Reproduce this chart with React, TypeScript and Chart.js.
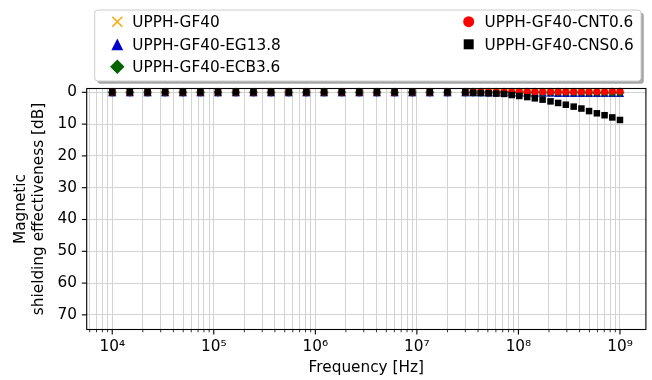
import React, { useEffect, useRef } from 'react';
import { Chart, registerables } from 'chart.js';

Chart.register(...registerables);

const FONT_FAMILY = '"DejaVu Sans", "Liberation Sans", sans-serif';
const FONT_SIZE = 15.3;

// Frequencies (Hz) shared by every series
const frequenciesHz = [
  1.0e4, 1.49e4, 2.23e4, 3.32e4, 4.96e4, 7.39e4, 1.10e5, 1.65e5, 2.46e5, 3.66e5,
  5.47e5, 8.16e5, 1.22e6, 1.82e6, 2.71e6, 4.04e6, 6.03e6, 9.0e6, 1.34e7, 2.0e7,
  3.0e7, 3.58e7, 4.26e7, 5.08e7, 6.05e7, 7.21e7, 8.59e7, 1.02e8, 1.22e8, 1.45e8,
  1.73e8, 2.07e8, 2.46e8, 2.93e8, 3.50e8, 4.17e8, 4.96e8, 5.92e8, 7.05e8, 8.40e8,
  1.0e9,
];

// Magnetic shielding effectiveness [dB]
const seGF40 = [
  0, 0, 0, 0, 0, 0, 0, 0, 0, 0, 0, 0, 0, 0, 0, 0, 0, 0, 0, 0,
  0, 0, 0, 0, 0, 0, 0, 0, 0, 0, 0, 0, 0.1, 0.1, 0.1, 0.1, 0.2, 0.2, 0.2, 0.3, 0.3,
];
const seEG138 = [
  0, 0, 0, 0, 0, 0, 0, 0, 0, 0, 0, 0, 0, 0, 0, 0, 0, 0, 0, 0,
  0, 0, 0, 0, 0, 0, 0, 0.1, 0.1, 0.1, 0.1, 0.1, 0.2, 0.2, 0.2, 0.2, 0.2, 0.2, 0.2, 0.2, 0.2,
];
const seECB36 = [
  0, 0, 0, 0, 0, 0, 0, 0, 0, 0, 0, 0, 0, 0, 0, 0, 0, 0, 0, 0,
  0, 0, 0, 0, 0, 0, 0, 0, 0, 0, 0, 0, 0, 0, 0, 0, 0.1, 0.1, 0.1, 0.1, 0.1,
];
const seCNT06 = [
  0, 0, 0, 0, 0, 0, 0, 0, 0, 0, 0, 0, 0, 0, 0, 0, 0, 0, 0, 0,
  0, 0, 0, 0, 0, -0.1, -0.1, -0.2, -0.2, -0.2, -0.2, -0.2, -0.2, -0.2, -0.2, -0.2, -0.2, -0.2, -0.2, -0.3, -0.3,
];
const seCNS06 = [
  0, 0, 0, 0, 0, 0, 0, 0, 0, 0, 0, 0, 0, 0, 0, 0, 0, 0, 0, 0,
  0.0, 0.1, 0.2, 0.3, 0.4, 0.5, 0.85, 1.15, 1.5, 1.9, 2.3, 2.85, 3.35, 3.9, 4.5, 5.1, 5.9, 6.6, 7.2, 7.9, 8.7,
];

const seriesLabels = [
  'UPPH-GF40',
  'UPPH-GF40-EG13.8',
  'UPPH-GF40-ECB3.6',
  'UPPH-GF40-CNT0.6',
  'UPPH-GF40-CNS0.6',
];
const seriesValues = [seGF40, seEG138, seECB36, seCNT06, seCNS06];
const seriesColors = ['#ffa500', '#0000cd', '#006400', '#ff0000', '#000000'];
const seriesMarkers = ['x', 'triangle', 'diamond', 'circle', 'square'];

const yTickValues = [0, 10, 20, 30, 40, 50, 60, 70];
const xMajorTicks = [1e4, 1e5, 1e6, 1e7, 1e8, 1e9];
const xTickLabels = ['10⁴', '10⁵', '10⁶', '10⁷', '10⁸', '10⁹'];

const xTitle = 'Frequency [Hz]';
const yTitle = ['Magnetic', 'shielding effectiveness [dB]'];

function isDecade(v: number) {
  const l = Math.log10(v);
  return Math.abs(l - Math.round(l)) < 1e-9;
}

function markerPath(ctx: CanvasRenderingContext2D, kind: string, x: number, y: number, s: number) {
  // s = half size
  ctx.beginPath();
  if (kind === 'x') {
    ctx.moveTo(x - s, y - s);
    ctx.lineTo(x + s, y + s);
    ctx.moveTo(x - s, y + s);
    ctx.lineTo(x + s, y - s);
  } else if (kind === 'triangle') {
    ctx.moveTo(x, y - s);
    ctx.lineTo(x + s, y + s);
    ctx.lineTo(x - s, y + s);
    ctx.closePath();
  } else if (kind === 'diamond') {
    ctx.moveTo(x, y - s);
    ctx.lineTo(x + s, y);
    ctx.lineTo(x, y + s);
    ctx.lineTo(x - s, y);
    ctx.closePath();
  } else if (kind === 'circle') {
    ctx.arc(x, y, s, 0, Math.PI * 2);
  } else {
    ctx.rect(x - s, y - s, 2 * s, 2 * s);
  }
}

function drawMarker(ctx: CanvasRenderingContext2D, kind: string, x: number, y: number, s: number, color: string) {
  ctx.save();
  ctx.fillStyle = color;
  ctx.strokeStyle = color;
  markerPath(ctx, kind, x, y, s);
  if (kind === 'x') {
    ctx.lineWidth = 1.5;
    ctx.stroke();
  } else {
    ctx.fill();
  }
  ctx.restore();
}

function makeMarkerCanvas(kind: string, half: number, color: string) {
  const size = Math.ceil(half * 2 + 4);
  const c = document.createElement('canvas');
  c.width = size;
  c.height = size;
  const cx = c.getContext('2d') as CanvasRenderingContext2D;
  drawMarker(cx, kind, size / 2, size / 2, half, color);
  return c;
}

function roundRectPath(ctx: CanvasRenderingContext2D, x: number, y: number, w: number, h: number, r: number) {
  ctx.beginPath();
  ctx.moveTo(x + r, y);
  ctx.lineTo(x + w - r, y);
  ctx.arcTo(x + w, y, x + w, y + r, r);
  ctx.lineTo(x + w, y + h - r);
  ctx.arcTo(x + w, y + h, x + w - r, y + h, r);
  ctx.lineTo(x + r, y + h);
  ctx.arcTo(x, y + h, x, y + h - r, r);
  ctx.lineTo(x, y + r);
  ctx.arcTo(x, y, x + r, y, r);
  ctx.closePath();
}

const decorPlugin = {
  id: 'mplDecor',
  afterDraw(chart: any) {
    const { ctx, chartArea: a, scales } = chart;
    ctx.save();
    ctx.strokeStyle = '#000';
    const xs = scales.x;
    xs.ticks.forEach((t: any) => {
      const px = xs.getPixelForValue(t.value);
      const major = isDecade(t.value);
      ctx.lineWidth = major ? 1.1 : 0.8;
      const len = major ? 4.9 : 2.8;
      ctx.beginPath();
      ctx.moveTo(px, a.bottom);
      ctx.lineTo(px, a.bottom + len);
      ctx.stroke();
    });
    const ys = scales.y;
    ys.ticks.forEach((t: any) => {
      const py = ys.getPixelForValue(t.value);
      ctx.lineWidth = 1.1;
      ctx.beginPath();
      ctx.moveTo(a.left, py);
      ctx.lineTo(a.left - 4.9, py);
      ctx.stroke();
    });
    ctx.lineWidth = 1.1;
    ctx.strokeRect(a.left, a.top, a.right - a.left, a.bottom - a.top);

    // legend
    const bx = 94.7, by = 10, bw = 546.3, bh = 71;
    ctx.fillStyle = 'rgba(0,0,0,0.35)';
    roundRectPath(ctx, bx + 2.8, by + 2.8, bw, bh, 3);
    ctx.fill();
    ctx.fillStyle = '#ffffff';
    roundRectPath(ctx, bx, by, bw, bh, 3);
    ctx.fill();
    ctx.strokeStyle = '#cccccc';
    ctx.lineWidth = 1;
    ctx.stroke();

    const colMarkerX = [117.3, 468.7];
    const colTextX = [132.3, 484.6];
    const rowY = [21.7, 44.3, 66.7];
    const placement = [[0, 0], [0, 1], [0, 2], [1, 0], [1, 1]];
    const legendHalf: Record<string, number> = { x: 5, triangle: 5.9, diamond: 7.2, circle: 5.5, square: 5 };
    ctx.font = `${FONT_SIZE}px ${FONT_FAMILY}`;
    ctx.textAlign = 'left';
    ctx.textBaseline = 'alphabetic';
    seriesLabels.forEach((label, i) => {
      const [c, r] = placement[i];
      drawMarker(ctx, seriesMarkers[i], colMarkerX[c], rowY[r], legendHalf[seriesMarkers[i]], seriesColors[i]);
      ctx.fillStyle = '#000';
      ctx.fillText(label, colTextX[c], rowY[r] + 5.5);
    });
    ctx.restore();
  },
};

export default function App() {
  const canvasRef = useRef<HTMLCanvasElement | null>(null);

  useEffect(() => {
    const canvas = canvasRef.current;
    if (!canvas) return;

    const plotStyle: Record<string, any> = {
      x: { pointStyle: 'crossRot', radius: 4.7, borderWidth: 1.4 },
      triangle: { pointStyle: makeMarkerCanvas('triangle', 4, seriesColors[1]), radius: 4, borderWidth: 0 },
      diamond: { pointStyle: makeMarkerCanvas('diamond', 4.6, seriesColors[2]), radius: 4.6, borderWidth: 0 },
      circle: { pointStyle: 'circle', radius: 3.5, borderWidth: 0 },
      square: { pointStyle: 'rect', radius: 4.6, borderWidth: 0 },
    };

    const datasets = seriesLabels.map((label, i) => {
      const st = plotStyle[seriesMarkers[i]];
      return {
        label,
        data: frequenciesHz.map((f, k) => ({ x: f, y: seriesValues[i][k] })),
        showLine: false,
        pointStyle: st.pointStyle,
        pointRadius: st.radius,
        pointHoverRadius: st.radius,
        pointBorderWidth: st.borderWidth,
        pointBackgroundColor: seriesColors[i],
        pointBorderColor: seriesColors[i],
        backgroundColor: seriesColors[i],
        borderColor: seriesColors[i],
        order: seriesLabels.length - i,
        clip: false as any,
      };
    });

    const tickFont = { family: FONT_FAMILY, size: FONT_SIZE, lineHeight: 1.15 };

    const chart = new Chart(canvas, {
      type: 'scatter',
      data: { datasets },
      plugins: [decorPlugin],
      options: {
        animation: false,
        responsive: false,
        devicePixelRatio: 1,
        events: [],
        layout: { padding: { top: 88.5, right: 4.7, left: 0, bottom: 0 } },
        plugins: {
          legend: { display: false },
          tooltip: { enabled: false },
        },
        scales: {
          x: {
            type: 'logarithmic',
            min: 5605,
            max: 1.8e9,
            bounds: 'data',
            afterBuildTicks: (scale: any) => {
              const ticks: any[] = [];
              for (let e = 3; e <= 9; e++) {
                for (let m = 1; m <= 9; m++) {
                  const v = m * Math.pow(10, e);
                  if (v >= scale.min && v <= scale.max) ticks.push({ value: v, major: m === 1 });
                }
              }
              scale.ticks = ticks;
            },
            afterFit: (scale: any) => {
              scale.height = 50.5;
            },
            grid: { color: '#d3d3d3', lineWidth: 1, drawTicks: false },
            border: { display: false },
            ticks: {
              autoSkip: false,
              maxRotation: 0,
              minRotation: 0,
              padding: 8.5,
              color: '#000',
              font: tickFont,
              callback: (value: any) => {
                const idx = xMajorTicks.findIndex(
                  (v) => Math.abs(Math.log10(v) - Math.log10(Number(value))) < 1e-6
                );
                return idx >= 0 ? xTickLabels[idx] : '';
              },
            },
            title: {
              display: true,
              text: xTitle,
              color: '#000',
              font: tickFont,
              padding: { top: 0, bottom: 3.2 },
            },
          },
          y: {
            type: 'linear',
            reverse: true,
            min: -1.2,
            max: 74.6,
            afterBuildTicks: (scale: any) => {
              scale.ticks = yTickValues.map((v) => ({ value: v }));
            },
            afterFit: (scale: any) => {
              scale.width = 86.7;
            },
            grid: { color: '#d3d3d3', lineWidth: 1, drawTicks: false },
            border: { display: false },
            ticks: {
              autoSkip: false,
              padding: 9.8,
              color: '#000',
              font: tickFont,
              callback: (value: any) => String(value),
            },
            title: {
              display: true,
              text: yTitle,
              color: '#000',
              font: tickFont,
              padding: { top: 12.2, bottom: 0 },
            },
          },
        },
      } as any,
    });

    return () => {
      chart.destroy();
    };
  }, []);

  return (
    <div style={{ position: 'fixed', left: 0, top: 0, width: 652, height: 380, background: '#fff' }}>
      <canvas ref={canvasRef} width={652} height={380} style={{ width: 652, height: 380, display: 'block' }} />
    </div>
  );
}
